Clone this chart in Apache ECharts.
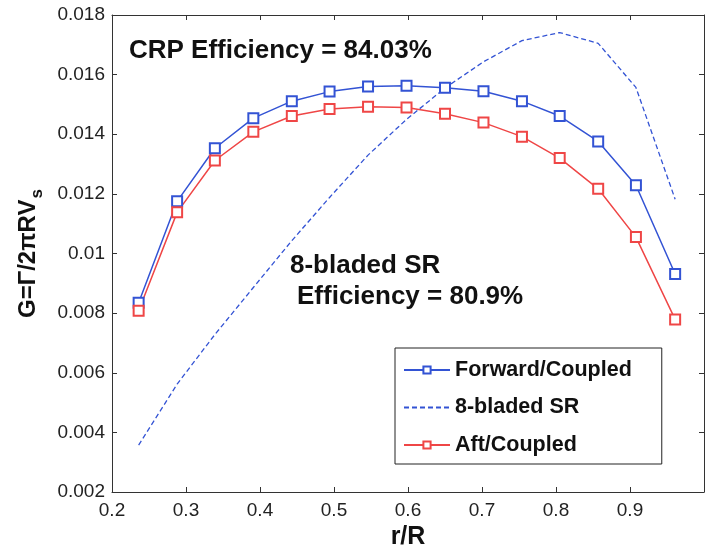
<!DOCTYPE html>
<html>
<head>
<meta charset="utf-8">
<script src="https://cdn.jsdelivr.net/npm/echarts@6/dist/echarts.min.js"></script>
<style>
html,body{margin:0;padding:0;background:#fff;}
#chart{width:706px;height:545px;}
</style>
</head>
<body>
<div id="chart"></div>
<script>
// r/R stations
var rR = [0.236, 0.288, 0.339, 0.391, 0.443, 0.494, 0.546, 0.598, 0.650, 0.702, 0.754, 0.805, 0.857, 0.908, 0.961];
// Forward/Coupled
var forwardG = [0.00835, 0.01175, 0.01353, 0.01454, 0.01511, 0.01543, 0.01560, 0.01563, 0.01556, 0.01544, 0.01511, 0.01461, 0.01376, 0.01229, 0.00931];
// 8-bladed SR
var srG = [0.00357, 0.00562, 0.00728, 0.00886, 0.01043, 0.01188, 0.01330, 0.01450, 0.01555, 0.01643, 0.01714, 0.01741, 0.01705, 0.01557, 0.01182];
// Aft/Coupled
var aftG = [0.00808, 0.01138, 0.01312, 0.01408, 0.01461, 0.01485, 0.01492, 0.01490, 0.01469, 0.01439, 0.01392, 0.01320, 0.01217, 0.01055, 0.00779];

var seriesNames = ['Forward/Coupled', '8-bladed SR', 'Aft/Coupled'];
var annotCRP = 'CRP Efficiency = 84.03%';
var annotSR1 = '8-bladed SR';
var annotSR2 = 'Efficiency = 80.9%';

function pairs(xs, ys){ return xs.map(function(x,i){ return [x, ys[i]]; }); }

var FONT = '"Liberation Sans", Arial, sans-serif';
var BLUE = '#3353d4';
var RED = '#ef4646';
var AX = '#333';

var chart = echarts.init(document.getElementById('chart'), null, {renderer:'canvas'});
var xBase = {min:0.2, max:1.0, interval:0.1, gridIndex:0,
  axisLine:{show:true, onZero:false, lineStyle:{color:AX, width:1}},
  axisTick:{show:true, inside:true, length:5, lineStyle:{color:AX}},
  splitLine:{show:false}};
var yBase = {min:0.002, max:0.018, interval:0.002, gridIndex:0,
  axisLine:{show:true, onZero:false, lineStyle:{color:AX, width:1}},
  axisTick:{show:true, inside:true, length:5, lineStyle:{color:AX}},
  splitLine:{show:false}};

var option = {
  backgroundColor:'#fff',
  animation:false,
  grid:{left:112, top:15, width:592, height:477, containLabel:false, outerBoundsMode:'none'},
  xAxis:[
    Object.assign({}, xBase, {type:'value', position:'bottom',
      name:'r/R', nameLocation:'middle', nameGap:29,
      nameTextStyle:{fontFamily:FONT, fontSize:25, fontWeight:'bold', color:'#111'},
      axisLabel:{show:true, margin:9, fontFamily:FONT, fontSize:19, color:'#222',
        formatter:function(v){ return Math.abs(v-1)<1e-9 ? '' : parseFloat(v.toFixed(1)).toString(); }}}),
    Object.assign({}, xBase, {type:'value', position:'top', axisLabel:{show:false}})
  ],
  yAxis:[
    Object.assign({}, yBase, {type:'value', position:'left',
      name:'{m|G=Γ/2πRV}{s|s}', nameLocation:'middle', nameGap:66, nameRotate:90,
      nameTextStyle:{fontFamily:FONT, fontSize:24, fontWeight:'bold', color:'#111',
        rich:{m:{fontFamily:FONT, fontSize:24, fontWeight:'bold', color:'#111'},
              s:{fontFamily:FONT, fontSize:17, fontWeight:'bold', color:'#111', padding:[18,0,0,1]}}},
      axisLabel:{show:true, margin:7, fontFamily:FONT, fontSize:19, color:'#222',
        formatter:function(v){ return parseFloat(v.toFixed(3)).toString(); }}}),
    Object.assign({}, yBase, {type:'value', position:'right', axisLabel:{show:false}})
  ],
  legend:{
    show:true, orient:'vertical', left:395, top:348,
    data:[
      {name:seriesNames[0]},
      {name:seriesNames[1], itemStyle:{opacity:0}},
      {name:seriesNames[2]}
    ],
    itemWidth:46, itemHeight:9, itemGap:13.5,
    padding:[10, 30, 7, 8],
    backgroundColor:'#fff', borderColor:'#222', borderWidth:1, borderRadius:0,
    textStyle:{fontFamily:FONT, fontSize:21.5, fontWeight:'bold', color:'#111', lineHeight:24}
  },
  graphic:[
    {type:'text', left:129, top:38, style:{text:annotCRP, font:'bold 26px ' + FONT, fill:'#111'}},
    {type:'text', left:290, top:253, style:{text:annotSR1, font:'bold 26px ' + FONT, fill:'#111'}},
    {type:'text', left:297, top:284, style:{text:annotSR2, font:'bold 26px ' + FONT, fill:'#111'}}
  ],
  series:[
    {name:seriesNames[0], type:'line', xAxisIndex:0, yAxisIndex:0, data:pairs(rR, forwardG),
      symbol:'emptyRect', symbolSize:10, color:BLUE,
      lineStyle:{color:BLUE, width:1.5}, itemStyle:{color:BLUE, borderWidth:1.3}, z:3},
    {name:seriesNames[1], type:'line', xAxisIndex:0, yAxisIndex:0, data:pairs(rR, srG),
      symbol:'none', showSymbol:false, color:BLUE,
      lineStyle:{color:BLUE, width:1.3, type:[5,3]}, z:2},
    {name:seriesNames[2], type:'line', xAxisIndex:0, yAxisIndex:0, data:pairs(rR, aftG),
      symbol:'emptyRect', symbolSize:10, color:RED,
      lineStyle:{color:RED, width:1.5}, itemStyle:{color:RED, borderWidth:1.3}, z:3}
  ]
};
chart.setOption(option);
</script>
</body>
</html>
